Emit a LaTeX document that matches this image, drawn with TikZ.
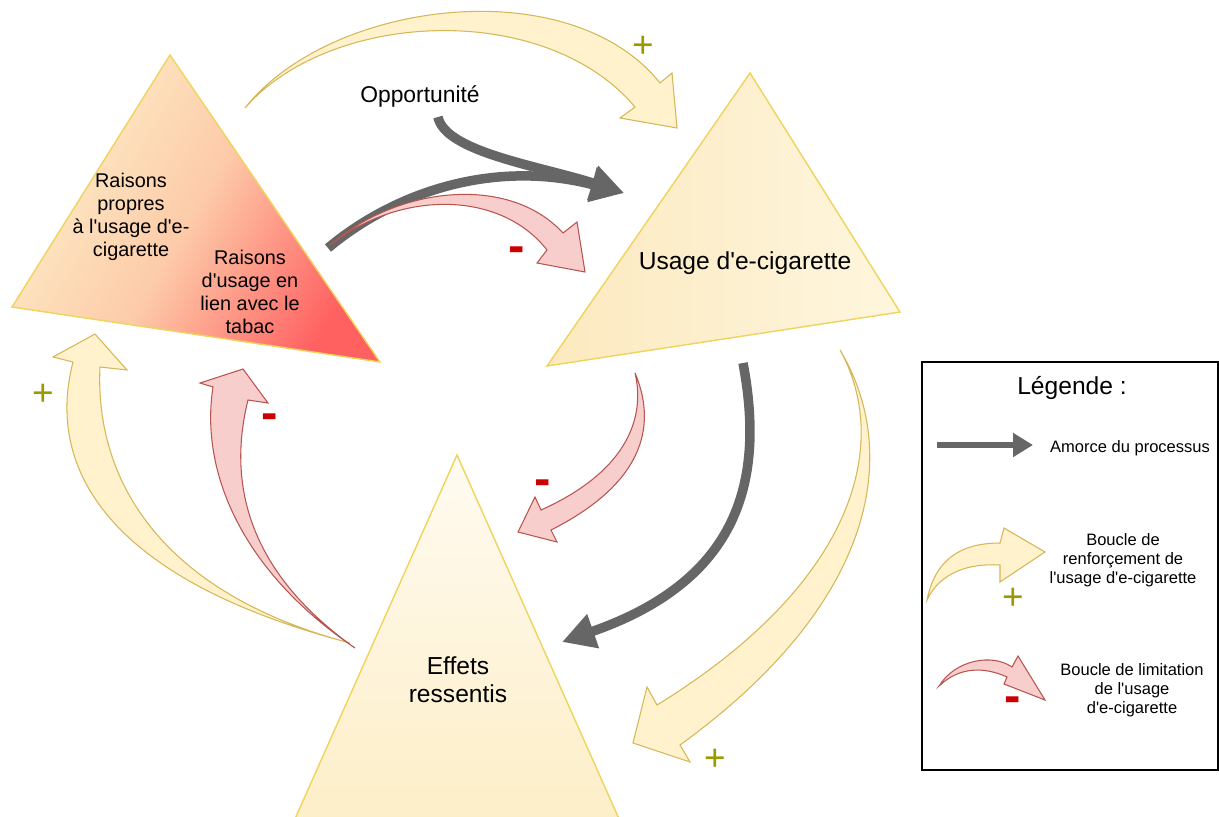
\documentclass[tikz,border=0pt]{standalone}
\usepackage{fontspec}
\setmainfont{Liberation Sans}[Ligatures=TeXOff]
\usetikzlibrary{arrows.meta}

\definecolor{creamFill}{HTML}{FFF2CC}
\definecolor{creamLine}{HTML}{D6B656}
\definecolor{pinkFill}{HTML}{F8CECC}
\definecolor{pinkLine}{HTML}{B85450}
\definecolor{grayLine}{HTML}{666666}
\definecolor{triLine}{HTML}{F0D35A}
\definecolor{plusColor}{HTML}{999900}
\definecolor{minusColor}{HTML}{CC0000}
\definecolor{raisLight}{HTML}{FDEEC8}
\definecolor{raisMid}{HTML}{FDCBA9}
\definecolor{raisRed}{HTML}{FF6161}
\definecolor{usageLeft}{HTML}{FCE9BF}
\definecolor{usageRight}{HTML}{FEF6DE}
\definecolor{effetsTop}{HTML}{FFFBF2}
\definecolor{effetsBottom}{HTML}{FDEEC6}

\begin{document}
\begin{tikzpicture}
[x=0.02cm, y=-0.02cm,
 triDecorate/.style={draw=triLine, line width=0.8pt},
 creamDecorate/.style={fill=creamFill, draw=creamLine, line width=0.6pt},
 pinkDecorate/.style={fill=pinkFill, draw=pinkLine, line width=0.6pt},
 grayDecorate/.style={-{Triangle[length=0.66cm,width=0.68cm]}, draw=grayLine, line width=0.19cm},
 textDecorate/.style={align=center, inner sep=0pt},
 plusDecorate/.style={text=plusColor, inner sep=0pt, font=\fontsize{21}{21}\selectfont},
 minusDecorate/.style={text=minusColor, inner sep=0pt, font=\fontsize{28}{28}\selectfont\bfseries}]

 \useasboundingbox (0,0) rectangle (1219,816);
 \clip (0,0) rectangle (1219,816);

 % triangles
 \coordinate (RaisA) at (170,55);
 \coordinate (RaisB) at (12,307);
 \coordinate (RaisC) at (380,362);
 \coordinate (UsageA) at (750,73);
 \coordinate (UsageB) at (547,366);
 \coordinate (UsageC) at (900,312);
 \coordinate (EffetsA) at (457,455);
 \coordinate (EffetsB) at (290,830);
 \coordinate (EffetsC) at (624,830);
 \draw[triDecorate, top color=raisLight, bottom color=raisRed, middle color=raisMid, shading angle=60] (RaisA) -- (RaisB) -- (RaisC) -- cycle;
 \draw[triDecorate, left color=usageLeft, right color=usageRight] (UsageA) -- (UsageB) -- (UsageC) -- cycle;
 \draw[triDecorate, top color=effetsTop, bottom color=effetsBottom] (EffetsA) -- (EffetsB) -- (EffetsC) -- cycle;

 \node (RaisPropres) at (131,217) [textDecorate, font=\fontsize{11.3}{13}\selectfont] {Raisons\\propres\\à l'usage d'e-\\cigarette};
 \node (RaisTabac) at (250,292) [textDecorate, font=\fontsize{11.3}{13}\selectfont] {Raisons\\d'usage en\\lien avec le\\tabac};
 \node (Opport) at (420,96) [textDecorate, font=\fontsize{13}{15}\selectfont] {Opportunité};
 \node (Usage) at (745,263) [textDecorate, font=\fontsize{14}{16}\selectfont] {Usage d'e-cigarette};
 \node (Effets) at (458,680) [textDecorate, font=\fontsize{14}{15.9}\selectfont] {Effets\\ressentis};

 % gray arrows
 \coordinate (OppStart) at (438,117);
 \coordinate (RaisStart) at (328,248);
 \coordinate (UsageTip) at (624,193);
 \coordinate (UsageStart) at (743,363);
 \coordinate (EffetsTip) at (562,642);
 \draw[grayDecorate] (OppStart) .. controls (445,152) and (540,166) .. (UsageTip);
 \draw[grayDecorate] (RaisStart) .. controls (400,188) and (500,160) .. (UsageTip);
 \draw[grayDecorate] (UsageStart) .. controls (765,480) and (740,580) .. (EffetsTip);

 % cream loops
 \coordinate (CreamA) at (245,108);
 \coordinate (CreamATip) at (677,128);
 \coordinate (CreamF) at (840,350);
 \coordinate (CreamFTip) at (633,743);
 \coordinate (CreamG) at (350,643);
 \coordinate (CreamGTip) at (95,334);
 \draw[creamDecorate] (CreamA) .. controls (330,0) and (570,-30) .. (660,83) -- (672,73) -- (CreamATip)
   -- (620,118) -- (635,107) .. controls (545,0) and (330,10) .. (CreamA) -- cycle;
 \draw[creamDecorate] (CreamF) .. controls (900,450) and (880,600) .. (680,745) -- (690,762) -- (CreamFTip)
   -- (647,687) -- (657,705) .. controls (860,580) and (890,440) .. (CreamF) -- cycle;
 \draw[creamDecorate] (CreamG) .. controls (110,580) and (45,470) .. (73,362) -- (53,357) -- (CreamGTip)
   -- (127,370) -- (100,367) .. controls (95,470) and (150,590) .. (CreamG) -- cycle;

 % pink loops
 \coordinate (PinkC) at (330,245);
 \coordinate (PinkCTip) at (585,272);
 \coordinate (PinkD) at (635,373);
 \coordinate (PinkDTip) at (518,532);
 \coordinate (PinkH) at (355,648);
 \coordinate (PinkHTip) at (243,369);
 \draw[pinkDecorate] (PinkC) .. controls (400,185) and (510,175) .. (563,233) -- (577,222) -- (PinkCTip)
   -- (537,263) -- (547,250) .. controls (500,190) and (400,190) .. (PinkC) -- cycle;
 \draw[pinkDecorate] (PinkD) .. controls (655,420) and (650,480) .. (551,530) -- (557,542) -- (PinkDTip)
   -- (535,497) -- (541,510) .. controls (630,470) and (645,415) .. (PinkD) -- cycle;
 \draw[pinkDecorate] (PinkH) .. controls (240,570) and (200,470) .. (213,387) -- (200,383) -- (PinkHTip)
   -- (268,403) -- (248,400) .. controls (228,480) and (245,570) .. (PinkH) -- cycle;

 % signs
 \foreach \x/\y [count=\i] in {643/47, 715/760, 43/395, 1013/599}
 {
          \node (Plus\i) at (\x,\y) [plusDecorate] {+};
 }
 \foreach \x/\y [count=\i] in {517/255, 543/488, 270/422, 1013/705}
 {
          \node (Minus\i) at (\x,\y) [minusDecorate] {-};
 }

 % legend
 \coordinate (LegNW) at (922,362);
 \coordinate (LegSE) at (1218,770);
 \draw[line width=1.2pt] (LegNW) rectangle (LegSE);
 \node (LegTitle) at (1072,388) [textDecorate, font=\fontsize{14}{16}\selectfont] {Légende :};
 \node (LegAmorce) at (1130,448) [textDecorate, font=\fontsize{9.4}{10.8}\selectfont] {Amorce du processus};
 \node (LegRenf) at (1123,560) [textDecorate, font=\fontsize{9.4}{10.8}\selectfont] {Boucle de\\renforçement de\\l'usage d'e-cigarette};
 \node (LegLimit) at (1132,690) [textDecorate, font=\fontsize{9.4}{10.8}\selectfont] {Boucle de limitation\\de l'usage\\d'e-cigarette};
 \coordinate (LegGrayA) at (937,445);
 \coordinate (LegGrayB) at (1033,445);
 \draw[grayDecorate, line width=0.12cm, -{Triangle[length=0.4cm,width=0.46cm]}] (LegGrayA) -- (LegGrayB);
 \coordinate (LegCream) at (927,600);
 \coordinate (LegCreamTip) at (1045,552);
 \draw[creamDecorate] (LegCream) .. controls (935,560) and (960,543) .. (1000,543) -- (1004,528) -- (LegCreamTip)
   -- (1000,582) -- (1000,565) .. controls (970,563) and (940,572) .. (LegCream) -- cycle;
 \coordinate (LegPink) at (939,686);
 \coordinate (LegPinkTip) at (1045,700);
 \draw[pinkDecorate] (LegPink) .. controls (955,660) and (992,653) .. (1012,667) -- (1018,656) -- (LegPinkTip)
   -- (1004,684) -- (1007,677) .. controls (985,667) and (960,666) .. (LegPink) -- cycle;
\end{tikzpicture}
\end{document}
